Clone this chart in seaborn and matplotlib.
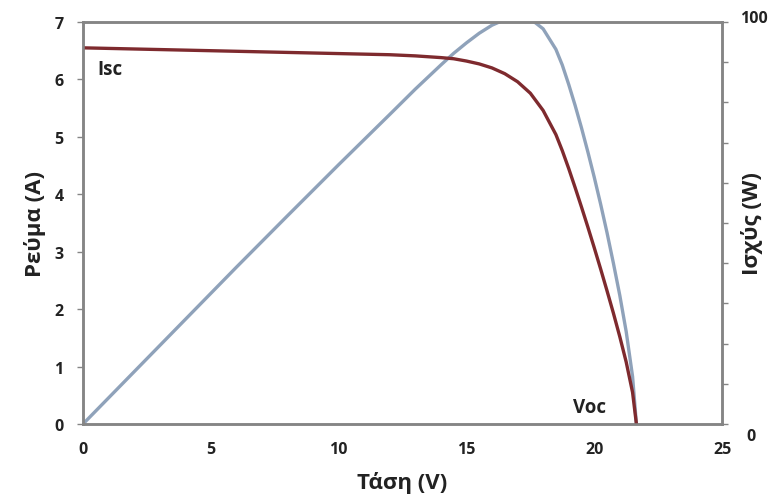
import matplotlib
matplotlib.use("Agg")
import matplotlib.pyplot as plt
import seaborn as sns
import pandas as pd

# Data
voltage = [0, 2, 4, 6, 8, 10, 12, 13, 14, 14.5, 15, 15.5, 16, 16.5, 17, 17.5,
           18, 18.5, 18.75, 19, 19.25, 19.5, 19.75, 20, 20.25, 20.5, 20.75,
           21, 21.25, 21.5, 21.65]
current = [6.55, 6.53, 6.51, 6.49, 6.47, 6.45, 6.43, 6.41, 6.38, 6.36, 6.32, 6.27,
           6.20, 6.10, 5.96, 5.76, 5.46, 5.04, 4.76, 4.45, 4.12, 3.78, 3.43,
           3.07, 2.70, 2.32, 1.93, 1.52, 1.08, 0.55, 0.0]
power = [0, 13, 26, 39, 51.8, 64.5, 77, 83.3, 89.3, 92.2, 94.8, 97.2,
         99.2, 100.6, 101.3, 100.8, 98.3, 93.2, 89.3, 84.5, 79.3, 73.7, 67.7,
         61.4, 54.7, 47.6, 40, 32, 23, 11.8, 0]

x_ticks = [0, 5, 10, 15, 20, 25]
left_ticks = [0, 1, 2, 3, 4, 5, 6, 7]
right_ticks = [0, 10, 20, 30, 40, 50, 60, 70, 80, 90, 100]

x_label = "Τάση (V)"
left_label = "Ρεύμα (A)"
right_label = "Ισχύς (W)"

df = pd.DataFrame({"V": voltage, "I": current, "P": power})

sns.set_style("white")
plt.rcParams['font.family'] = ['Open Sans', 'DejaVu Sans']
plt.rcParams['font.weight'] = 'bold'

fig = plt.figure(figsize=(7.81, 5.02), dpi=100)
ax = fig.add_axes([0.1063, 0.1534, 0.8182, 0.8008])
ax2 = ax.twinx()

red = "#7E2A2E"
blue = "#8FA2BA"
spine_c = "#858585"

sns.lineplot(data=df, x="V", y="P", ax=ax2, color=blue, linewidth=2.4, sort=False)
sns.lineplot(data=df, x="V", y="I", ax=ax, color=red, linewidth=2.4, sort=False)

ax.set_zorder(ax2.get_zorder() + 1)
ax.patch.set_visible(False)

ax.set_xlim(0, 25)
ax.set_ylim(0, 7)
ax2.set_ylim(0, 100)
ax.set_xticks(x_ticks)
ax.set_yticks(left_ticks)
ax2.set_yticks(right_ticks)
ax2.set_yticklabels([])

for a in (ax, ax2):
    for s in a.spines.values():
        s.set_color(spine_c)
        s.set_linewidth(1.8)
    a.tick_params(direction="out", length=4, width=1, color=spine_c,
                  labelsize=11.5, labelcolor="#222222")
ax.tick_params(axis="x", pad=8)
ax.tick_params(axis="y", pad=10)

ax.set_xlabel(x_label, fontsize=16, fontweight="bold", color="#222222", labelpad=10)
ax.set_ylabel(left_label, fontsize=16, fontweight="bold", color="#222222", labelpad=6)
ax2.set_ylabel(right_label, fontsize=16, fontweight="bold", color="#222222",
               rotation=90, labelpad=6)

ax2.text(1.028, 1.01, "100", transform=ax2.transAxes, fontsize=11.5,
         fontweight="bold", color="#222222", ha="left", va="center")
ax2.text(1.038, -0.03, "0", transform=ax2.transAxes, fontsize=11.5,
         fontweight="bold", color="#222222", ha="left", va="center")

ax.text(0.55, 6.18, "Isc", fontsize=13.5, fontweight="bold", color="#222222",
        ha="left", va="center")
ax.text(19.8, 0.3, "Voc", fontsize=13.5, fontweight="bold", color="#222222",
        ha="center", va="center")

fig.savefig("out.png", dpi=100)
